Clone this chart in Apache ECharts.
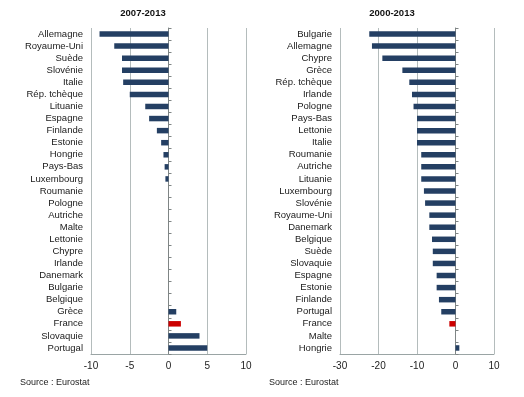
<!DOCTYPE html>
<html>
<head>
<meta charset="utf-8">
<script src="https://cdn.jsdelivr.net/npm/echarts@6/dist/echarts.min.js"></script>
<style>
  html, body { margin: 0; padding: 0; background: #fff; }
</style>
</head>
<body>
<div id="chart" style="width:524px;height:397px;"></div>
<script>
// 2007-2013
const leftCats = ['Allemagne', 'Royaume-Uni', 'Suède', 'Slovénie', 'Italie', 'Rép. tchèque', 'Lituanie',
  'Espagne', 'Finlande', 'Estonie', 'Hongrie', 'Pays-Bas', 'Luxembourg', 'Roumanie', 'Pologne',
  'Autriche', 'Malte', 'Lettonie', 'Chypre', 'Irlande', 'Danemark', 'Bulgarie', 'Belgique',
  'Grèce', 'France', 'Slovaquie', 'Portugal'];
const leftVals = [-8.9, -7.0, -6.0, -6.0, -5.85, -5.0, -3.0, -2.5, -1.5, -0.95, -0.65, -0.5, -0.4, 0,
  0, 0, 0, 0, 0, 0, 0, 0, 0, 1.0, 1.6, 4.0, 5.0];

// 2000-2013
const rightCats = ['Bulgarie', 'Allemagne', 'Chypre', 'Grèce', 'Rép. tchèque', 'Irlande', 'Pologne',
  'Pays-Bas', 'Lettonie', 'Italie', 'Roumanie', 'Autriche', 'Lituanie', 'Luxembourg', 'Slovénie',
  'Royaume-Uni', 'Danemark', 'Belgique', 'Suède', 'Slovaquie', 'Espagne', 'Estonie', 'Finlande',
  'Portugal', 'France', 'Malte', 'Hongrie'];
const rightVals = [-22.4, -21.7, -19.0, -13.8, -12.0, -11.3, -10.9, -10.0, -10.0, -10.0, -8.9, -8.9,
  -8.9, -8.2, -7.9, -6.8, -6.8, -6.1, -5.9, -5.9, -4.9, -4.9, -4.3, -3.7, -1.6, 0, 1.0];

const titles = ['2007-2013', '2000-2013'];
const xTicks = [[-10, 10, 5], [-30, 10, 10]];

const navy = '#243f63';
const red = '#cc0000';
const fontFam = '"Liberation Sans", Arial, sans-serif';

function toData(cats, vals) {
  return vals.map((v, i) => ({
    value: v,
    itemStyle: { color: cats[i] === 'France' ? red : navy }
  }));
}

const grids = [
  { left: 91, right: 278, top: 28, bottom: 43 },
  { left: 340, right: 30, top: 28, bottom: 43 }
];

const xAxis = xTicks.map((t, i) => ({
  type: 'value',
  gridIndex: i,
  min: t[0], max: t[1], interval: t[2],
  axisLine: { show: true, onZero: false, lineStyle: { color: '#9aa4a4' } },
  axisTick: { show: false },
  axisLabel: { color: '#222', fontSize: 10, fontFamily: fontFam, margin: 7 },
  splitLine: { show: true, lineStyle: { color: '#b4bcbc', width: 1 } }
}));

const catSets = [leftCats, rightCats];
const yAxis = [];
catSets.forEach((cats, i) => {
  // labels on the left of the grid
  yAxis.push({
    type: 'category', gridIndex: i, data: cats, inverse: true,
    axisLine: { show: false, onZero: false },
    axisTick: { show: false },
    axisLabel: { interval: 0, color: '#1a1a1a', fontSize: 9.5, fontFamily: fontFam, margin: 8 }
  });
  // zero line with ticks
  yAxis.push({
    type: 'category', gridIndex: i, data: cats, inverse: true,
    axisLine: { show: true, onZero: true, lineStyle: { color: '#7f8585' } },
    axisTick: { show: true, interval: 0, length: 3, lineStyle: { color: '#7f8585' } },
    axisLabel: { show: false }
  });
});

const option = {
  animation: false,
  title: titles.map((t, i) => ({
    text: t,
    left: i === 0 ? 138 : 387,
    textAlign: 'center',
    top: 3,
    textStyle: { fontSize: 9.5, fontWeight: 'bold', color: '#111', fontFamily: fontFam }
  })),
  grid: grids,
  xAxis: xAxis,
  yAxis: yAxis,
  series: [
    { type: 'bar', xAxisIndex: 0, yAxisIndex: 1, barWidth: 5.5, data: toData(leftCats, leftVals) },
    { type: 'bar', xAxisIndex: 1, yAxisIndex: 3, barWidth: 5.5, data: toData(rightCats, rightVals) }
  ],
  graphic: [
    { type: 'text', left: 20, top: 378, style: { text: 'Source : Eurostat', fontSize: 9, fill: '#222', fontFamily: fontFam } },
    { type: 'text', left: 269, top: 378, style: { text: 'Source : Eurostat', fontSize: 9, fill: '#222', fontFamily: fontFam } }
  ]
};

const myChart = echarts.init(document.getElementById('chart'));
myChart.setOption(option);
</script>
</body>
</html>
